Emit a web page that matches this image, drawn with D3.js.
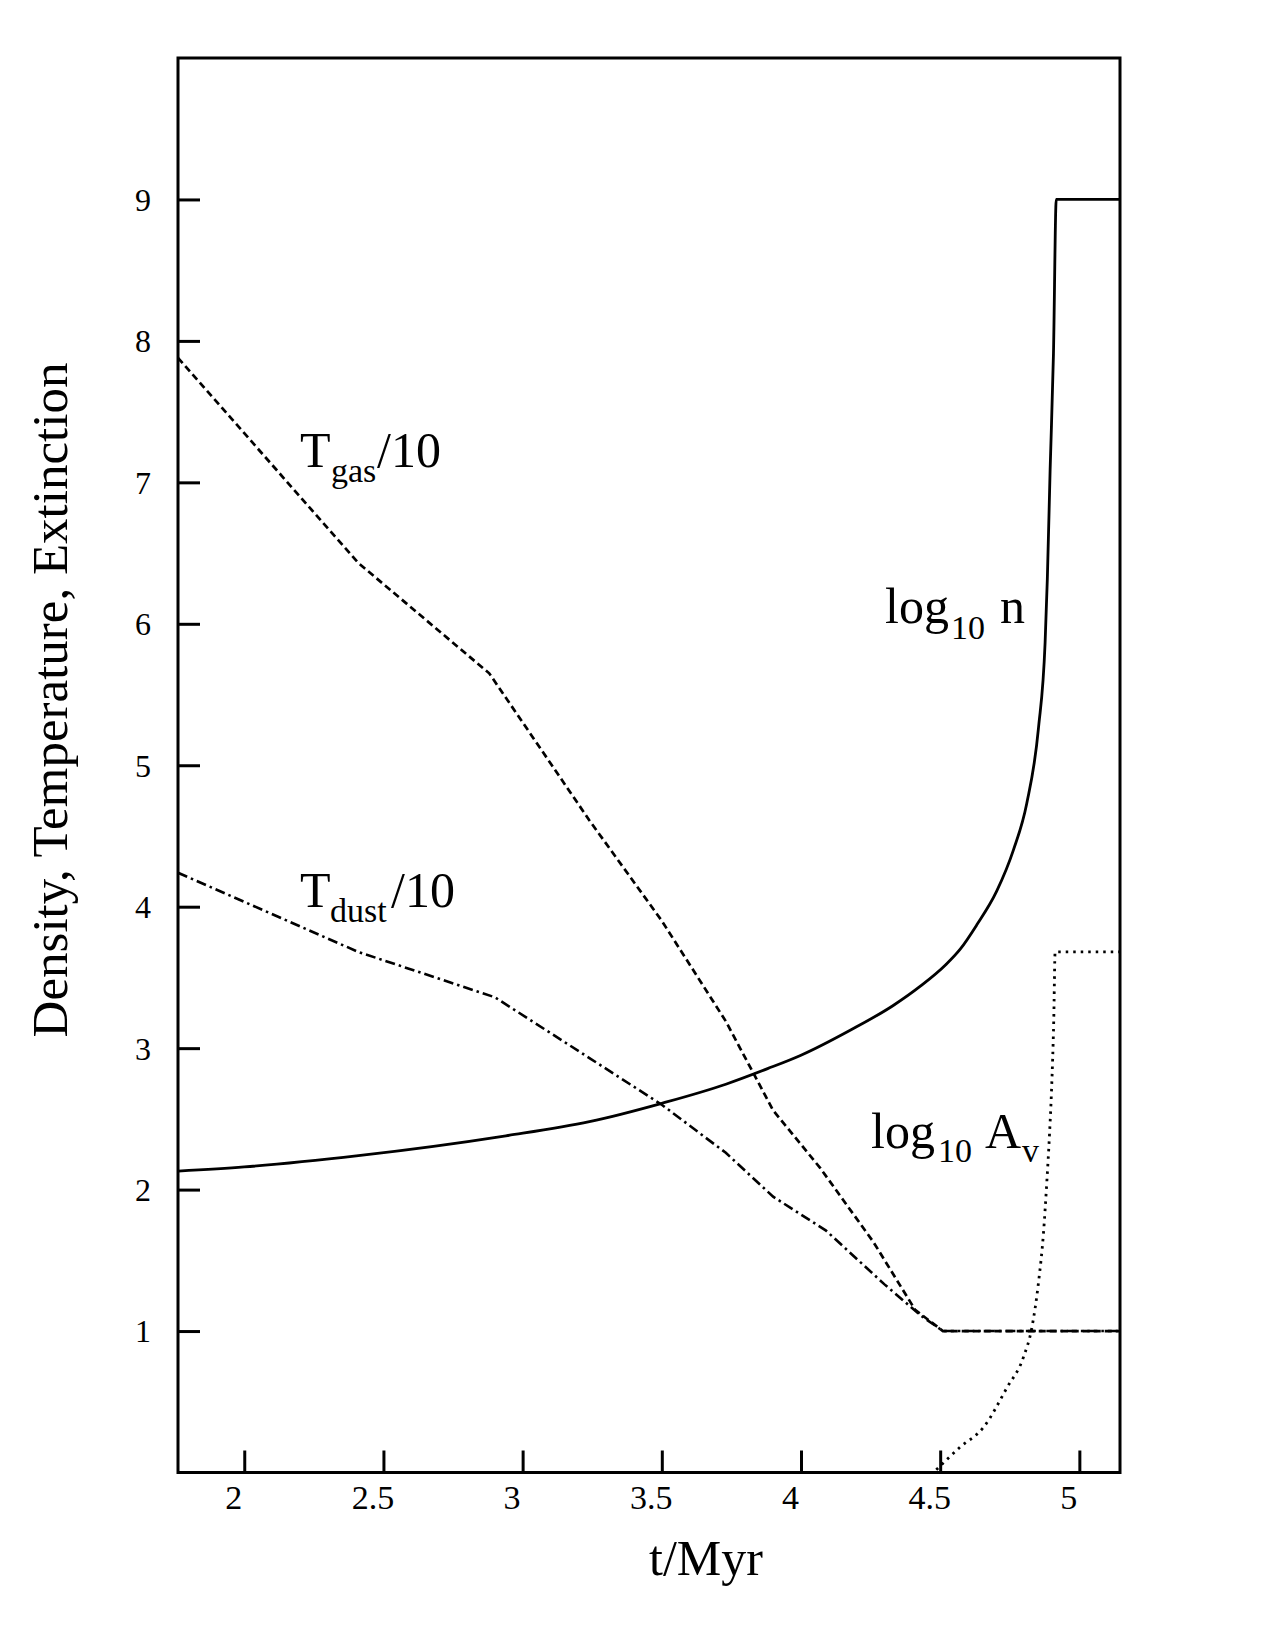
<!DOCTYPE html>
<html>
<head>
<meta charset="utf-8">
<script src="https://cdn.jsdelivr.net/npm/d3@7"></script>
<style>
  body { margin: 0; background: #fff; }
  svg { display: block; font-family: "Liberation Serif", "Times New Roman", serif; }
</style>
</head>
<body>
<div id="chart"></div>
<script>
// --------------------------------------
//  Data
// --------------------------------------

const xTicks = [2, 2.5, 3, 3.5, 4, 4.5, 5];
const yTicks = [1, 2, 3, 4, 5, 6, 7, 8, 9];

// log10 n (solid)
const nT = [1.762, 2.0, 2.41, 2.94, 3.24, 3.5, 3.73, 3.88, 4.0, 4.18, 4.33, 4.43, 4.52, 4.572, 4.631, 4.703, 4.763, 4.811, 4.853, 4.877, 4.885, 4.895, 4.907, 4.917, 5.146];
const nVal = [2.13, 2.16, 2.24, 2.38, 2.48, 2.61, 2.745, 2.855, 2.95, 3.13, 3.30, 3.44, 3.59, 3.70, 3.87, 4.11, 4.40, 4.73, 5.26, 5.87, 6.32, 7.09, 7.91, 9.0, 9.0];

// Tgas/10 (dashed)
const gasT = [1.762, 2.41, 2.88, 3.24, 3.5, 3.73, 3.90, 4.07, 4.26, 4.41, 4.51, 5.146];
const gasVal = [7.88, 6.43, 5.65, 4.61, 3.90, 3.19, 2.56, 2.15, 1.63, 1.15, 1.0, 1.0];

// Tdust/10 (dash-dot)
const dustT = [1.762, 2.41, 2.90, 3.24, 3.5, 3.73, 3.90, 4.09, 4.30, 4.43, 4.51, 5.146];
const dustVal = [4.24, 3.68, 3.36, 2.93, 2.60, 2.26, 1.95, 1.71, 1.33, 1.11, 1.0, 1.0];

// log10 Av (dotted)
const avT = [4.486, 4.572, 4.656, 4.74, 4.80, 4.83, 4.853, 4.871, 4.883, 4.893, 4.900, 4.908, 4.913, 5.146];
const avVal = [0.02, 0.18, 0.32, 0.60, 0.82, 1.03, 1.34, 1.69, 2.05, 2.40, 2.70, 3.20, 3.68, 3.68];

// --------------------------------------
//  Margin and canvas
// --------------------------------------

const margin = {top: 58, right: 155, bottom: 177.5, left: 178};
const width = 1275;
const height = 1650;
const innerwidth = width - margin.left - margin.right;
const innerheight = height - margin.top - margin.bottom;

const svg = d3.select("#chart")
  .append("svg")
    .attr("width", width)
    .attr("height", height)
    .attr("viewBox", `0, 0, ${width}, ${height}`);

const innerChart = svg
  .append("g")
    .attr("transform", `translate(${margin.left}, ${margin.top})`);

// --------------------------------------
//  Scales
// --------------------------------------

const x = d3.scaleLinear()
    .domain([1.762, 5.146])
    .range([0, innerwidth]);

const y = d3.scaleLinear()
    .domain([0, 10])
    .range([innerheight, 0]);

// --------------------------------------
//  Axes
// --------------------------------------

const serif = "'Liberation Serif', 'Times New Roman', serif";

const xAxis = innerChart.append("g")
    .attr("transform", `translate(0, ${innerheight})`)
    .call(d3.axisBottom(x)
        .tickValues(xTicks)
        .tickFormat(d3.format(""))
        .tickSize(-22)
        .tickPadding(0));

xAxis.select(".domain").remove();
xAxis.selectAll(".tick line").attr("stroke", "#000").attr("stroke-width", 3);
xAxis.selectAll(".tick text")
    .style("font-family", serif)
    .style("font-size", "34px")
    .attr("fill", "#000")
    .attr("dy", null)
    .attr("x", -11)
    .attr("y", 36);

const yAxis = innerChart.append("g")
    .call(d3.axisLeft(y)
        .tickValues(yTicks)
        .tickSize(-22)
        .tickPadding(0));

yAxis.select(".domain").remove();
yAxis.selectAll(".tick line").attr("stroke", "#000").attr("stroke-width", 3);
yAxis.selectAll(".tick text")
    .style("font-family", serif)
    .style("font-size", "32px")
    .attr("fill", "#000")
    .attr("text-anchor", "middle")
    .attr("x", -35)
    .attr("dy", "0.34em");

// frame
innerChart.append("rect")
    .attr("x", 0)
    .attr("y", 0)
    .attr("width", innerwidth)
    .attr("height", innerheight)
    .attr("fill", "none")
    .attr("stroke", "#000")
    .attr("stroke-width", 3);

// axis titles
svg.append("text")
    .attr("x", 706)
    .attr("y", 1575)
    .attr("text-anchor", "middle")
    .attr("font-size", 50)
    .text("t/Myr");

svg.append("text")
    .attr("transform", "translate(67, 700) rotate(-90)")
    .attr("text-anchor", "middle")
    .attr("font-size", 51)
    .text("Density, Temperature, Extinction");

// --------------------------------------
//  Data drawing
// --------------------------------------

innerChart.append("clipPath")
    .attr("id", "plot-clip")
  .append("rect")
    .attr("width", innerwidth)
    .attr("height", innerheight);

const series = [
  {t: nT, v: nVal, dash: null, w: 2.8, curve: d3.curveMonotoneX},
  {t: gasT, v: gasVal, dash: "7,4", w: 2.7, curve: d3.curveLinear},
  {t: dustT, v: dustVal, dash: "10,4,2.5,4", w: 2.6, curve: d3.curveLinear},
  {t: avT, v: avVal, dash: "2.5,5", w: 2.8, curve: d3.curveMonotoneX}
];

innerChart.append("g")
    .attr("clip-path", "url(#plot-clip)")
  .selectAll("path")
  .data(series)
  .join("path")
    .attr("d", s => d3.line()
        .x(d => x(d[0]))
        .y(d => y(d[1]))
        .curve(s.curve)(s.t.map((t, i) => [t, s.v[i]])))
    .attr("fill", "none")
    .attr("stroke", "#000")
    .attr("stroke-width", s => s.w)
    .attr("stroke-dasharray", s => s.dash);

// --------------------------------------
//  Labels
// --------------------------------------

const labels = [
  {parts: [["T", 300, 466.7, 50], ["gas", 331, 482, 34], ["/10", 377, 466.7, 50]]},
  {parts: [["T", 300, 906.7, 50], ["dust", 330, 922, 34], ["/10", 391, 906.7, 50]]},
  {parts: [["log", 885, 623.3, 50], ["10", 951, 638.5, 34], ["n", 1000, 623.3, 50]]},
  {parts: [["log", 871, 1148.3, 50], ["10", 938, 1162, 34], ["A", 985, 1148.3, 50], ["v", 1022, 1162, 34]]}
];

labels.forEach(l => {
  const t = svg.append("text");
  l.parts.forEach(p => {
    t.append("tspan")
      .attr("x", p[1])
      .attr("y", p[2])
      .attr("font-size", p[3])
      .text(p[0]);
  });
});
</script>
</body>
</html>
